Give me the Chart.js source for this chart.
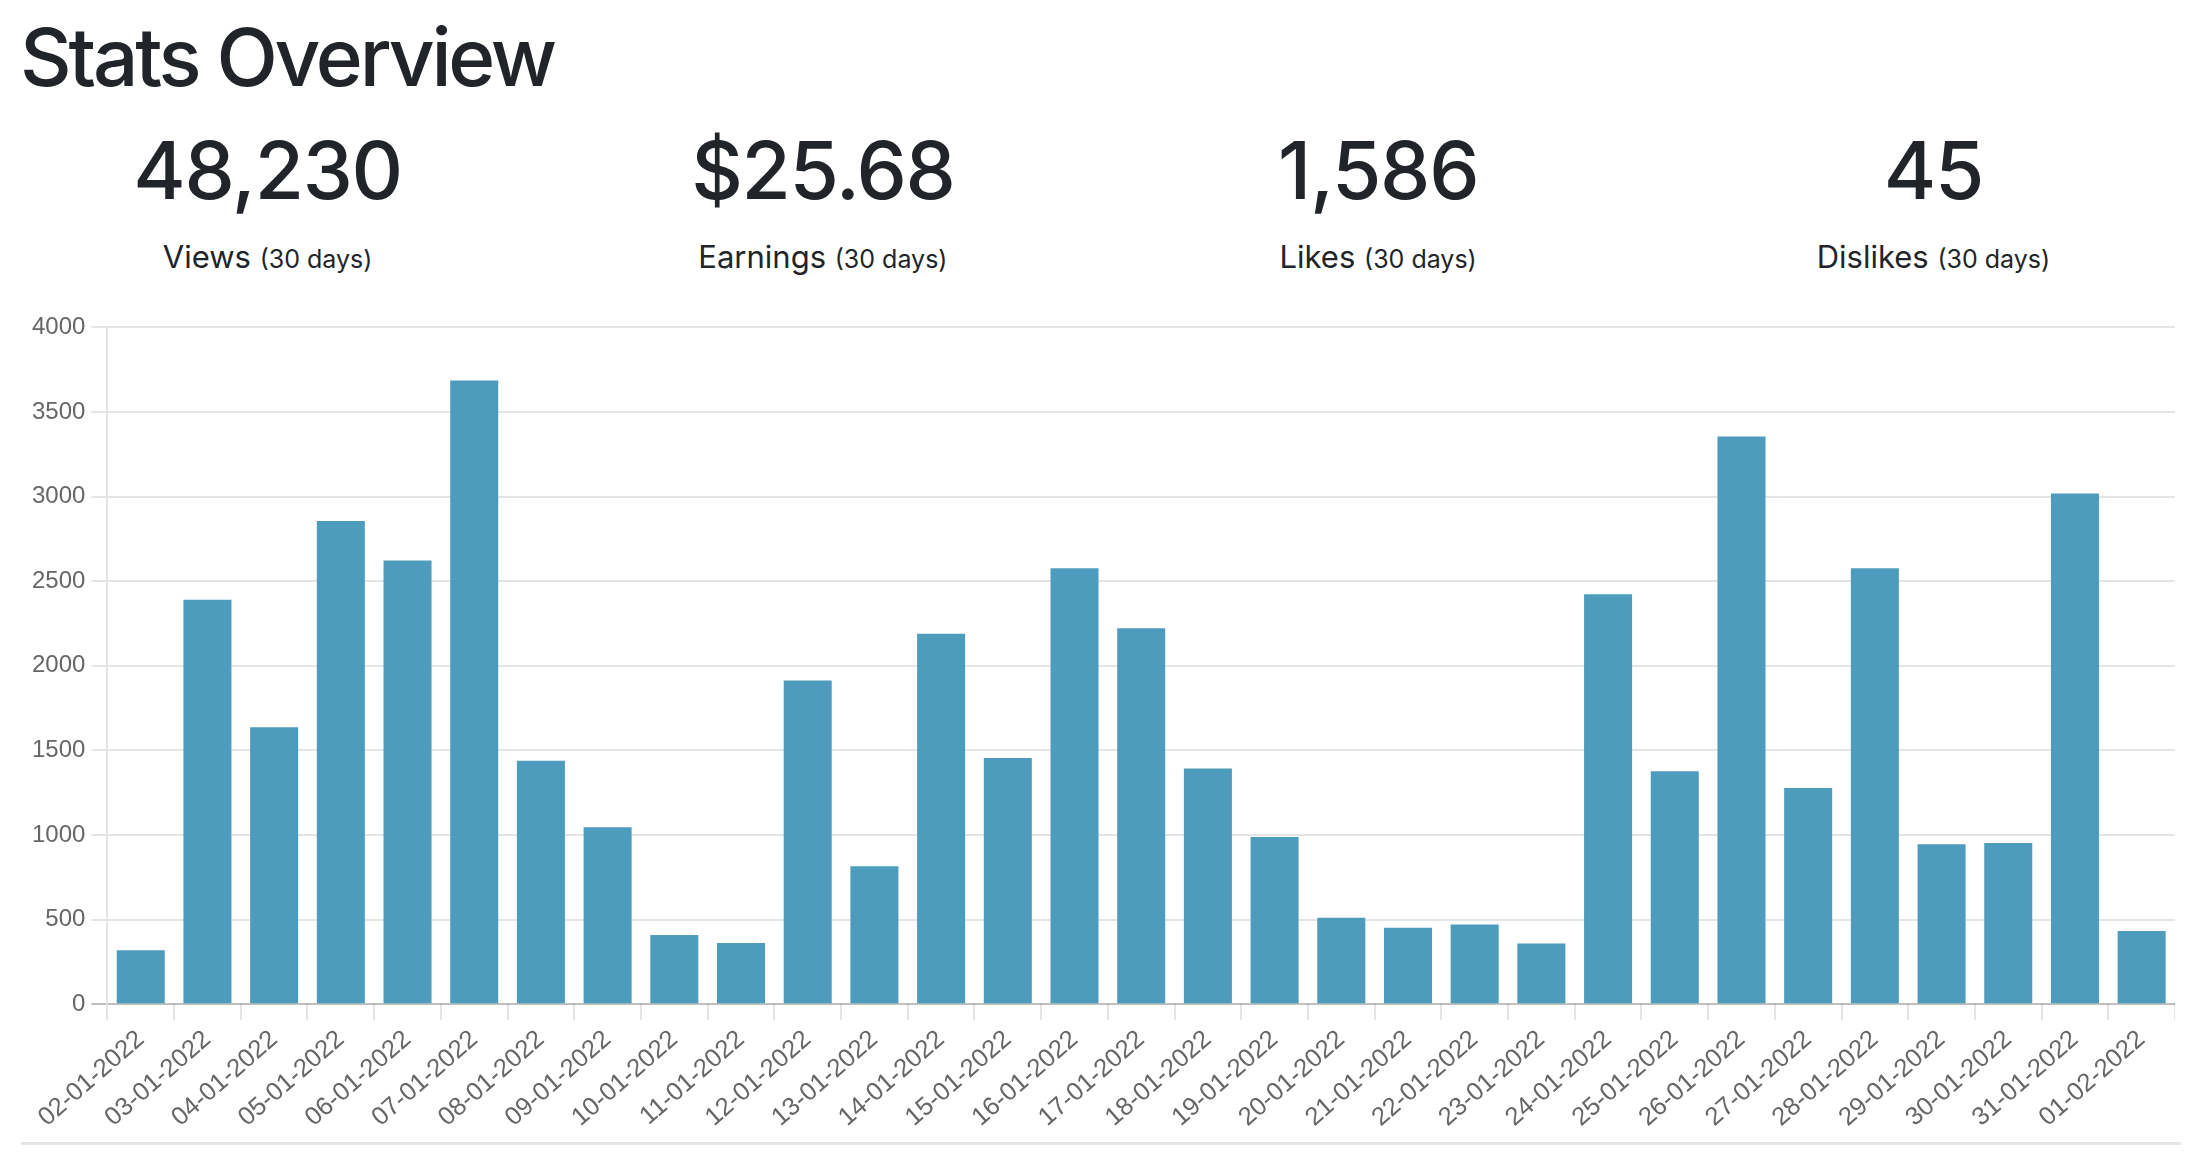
<!DOCTYPE html>
<html>
<head>
<meta charset="utf-8">
<script src="https://cdn.jsdelivr.net/npm/chart.js@4.4.1/dist/chart.umd.min.js"></script>
<style>
  html, body { margin: 0; padding: 0; background: #fff; }
  body { width: 2192px; height: 1162px; position: relative; overflow: hidden; color: #212529; font-family: Inter, "Liberation Sans", sans-serif; }
  h1 { position: absolute; left: 20px; top: 17px; margin: 0; font-size: 80px; line-height: 1; font-weight: 500; letter-spacing: -3.2px; }
  .row { position: absolute; left: -10px; top: 0; width: 2221px; display: flex; }
  .col { flex: 1 1 0; text-align: center; }
  .num { margin-top: 130px; font-size: 80px; line-height: 1; font-weight: 500; height: 80px; letter-spacing: -1.3px; }
  .lbl { margin-top: 31px; font-size: 31px; line-height: 1; }
  .lbl small { font-size: 25px; }
  #wrap { position: absolute; left: 0px; top: 307px; width: 2175px; height: 830px; }
  hr { position: absolute; left: 21px; top: 1142px; width: 2160px; margin: 0; border: 0; border-top: 3px solid #e6e6e6; }
</style>
</head>
<body>
<h1>Stats Overview</h1>
<div class="row" id="stats"></div>
<div id="wrap"><canvas id="c"></canvas></div>
<hr>
<script>
const statValues = ["48,230", "$25.68", "1,586", "45"];
const statNames = ["Views", "Earnings", "Likes", "Dislikes"];
const statPeriod = "(30 days)";

const dates = ["02-01-2022","03-01-2022","04-01-2022","05-01-2022","06-01-2022","07-01-2022","08-01-2022","09-01-2022","10-01-2022","11-01-2022","12-01-2022","13-01-2022","14-01-2022","15-01-2022","16-01-2022","17-01-2022","18-01-2022","19-01-2022","20-01-2022","21-01-2022","22-01-2022","23-01-2022","24-01-2022","25-01-2022","26-01-2022","27-01-2022","28-01-2022","29-01-2022","30-01-2022","31-01-2022","01-02-2022"];
const views = [320,2390,1637,2856,2623,3686,1439,1046,409,363,1913,816,2190,1455,2577,2222,1393,989,512,453,472,360,2423,1377,3355,1279,2577,946,954,3019,434];
const yTicks = [0,500,1000,1500,2000,2500,3000,3500,4000];

const row = document.getElementById('stats');
statValues.forEach((v, i) => {
  const col = document.createElement('div');
  col.className = 'col';
  col.innerHTML = '<div class="num">' + v + '</div><div class="lbl">' + statNames[i] + ' <small>' + statPeriod + '</small></div>';
  row.appendChild(col);
});

const fam = '"Liberation Sans", Arial, sans-serif';

new Chart(document.getElementById('c'), {
  type: 'bar',
  data: {
    labels: dates,
    datasets: [{ label: 'Views', data: views, backgroundColor: '#4e9cbd', borderWidth: 0 }]
  },
  options: {
    responsive: true,
    maintainAspectRatio: false,
    animation: false,
    devicePixelRatio: 1,
    layout: { padding: { left: 26, top: 0, right: 0, bottom: 0 } },
    plugins: { legend: { display: false }, tooltip: { enabled: false } },
    scales: {
      x: {
        grid: { drawOnChartArea: false, drawTicks: true, tickLength: 16, color: 'rgba(0,0,0,0.1)', lineWidth: 2 },
        border: { display: false },
        ticks: { minRotation: 41, maxRotation: 41, padding: 4, color: '#666', font: { size: 25.5, family: fam }, autoSkip: false }
      },
      y: {
        min: yTicks[0], max: yTicks[yTicks.length - 1],
        afterBuildTicks: (axis) => { axis.ticks = yTicks.map(v => ({ value: v })); },
        grid: { tickLength: 16, lineWidth: 2, color: (ctx) => ctx.tick && ctx.tick.value === 0 ? 'rgba(0,0,0,0.25)' : 'rgba(0,0,0,0.1)' },
        border: { display: true, color: 'rgba(0,0,0,0.1)', width: 2 },
        ticks: { padding: 6, color: '#666', font: { size: 24, family: fam }, callback: (v) => String(v) }
      }
    }
  }
});
</script>
</body>
</html>
